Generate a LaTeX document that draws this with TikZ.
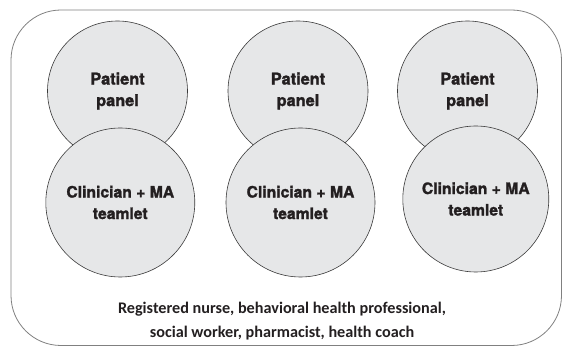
\documentclass[tikz,border=0pt]{standalone}
\usepackage{fontspec}
\setmainfont{Carlito}
\newfontfamily\circfont[BoldFeatures={FakeBold=1.6}]{TeX Gyre Heros}
\definecolor{circfill}{HTML}{E6E7E8}
\definecolor{circline}{HTML}{3A3A3A}
\definecolor{frameline}{HTML}{808080}
\definecolor{txt}{HTML}{231F20}
\tikzset{
  x=1pt, y=-1pt,
  frame/.style={draw=frameline, line width=0.8pt, rounded corners=50pt},
  bubble/.style={circle, draw=circline, fill=circfill, line width=0.6pt,
    inner sep=0pt, align=center, text=txt,
    font=\circfont\bfseries\fontsize{15.7}{21.5}\selectfont},
  panelbubble/.style={bubble, font=\circfont\bfseries\fontsize{16.3}{21.5}\selectfont},
  caption/.style={align=center, text=txt, font=\bfseries\fontsize{16.2}{24}\selectfont}
}
\begin{document}
\begin{tikzpicture}
\useasboundingbox (0,0) rectangle (563,347);
\draw[frame] (11,10) rectangle (561.5,345.5);
% top circles
\node[panelbubble, minimum size=140pt] (p1) at (117.5,91) {Patient\\panel};
\node[panelbubble, minimum size=140pt] (p2) at (298,91) {Patient\\panel};
\node[panelbubble, minimum size=140pt] (p3) at (467.5,91) {Patient\\panel};
% bottom circles
\node[bubble, minimum size=149pt] (t1) at (120.3,202.5) {Clinician + MA\\teamlet};
\node[bubble, minimum size=149pt] (t2) at (300.5,202.5) {Clinician + MA\\teamlet};
\node[bubble, minimum size=146pt] (t3) at (475.8,199) {Clinician + MA\\teamlet};
\node[caption] (cap) at (282,321) {Registered nurse, behavioral health professional,\\social worker, pharmacist, health coach};
\end{tikzpicture}
\end{document}
